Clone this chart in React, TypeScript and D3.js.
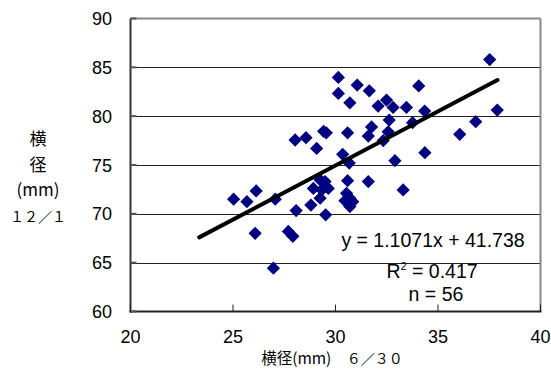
import * as d3 from 'd3'
import { useEffect, useRef } from 'react'

// 横径 6/30 (x) vs 横径 12/1 (y), mm
const xValues = [
    37.52, 30.14, 31.06, 31.65, 34.06, 30.14, 30.7, 32.08, 32.49, 32.81,
    33.46, 34.35, 37.89, 32.62, 33.76, 36.84, 29.42, 29.55, 30.59, 31.76,
    31.6, 32.57, 32.33, 36.06, 28.03, 28.56, 29.08, 30.35, 30.67, 32.9,
    34.36, 25.03, 25.68, 26.13, 27.06, 28.08, 28.8, 29.52, 26.08, 27.7,
    27.92, 26.97, 31.6, 33.3, 30.59, 29.25, 29.49, 28.92, 29.33, 29.65,
    29.25, 30.54, 30.7, 30.46, 30.84, 30.7,
]
const yValues = [
    85.8, 83.97, 83.18, 82.6, 83.1, 82.33, 81.37, 81.03, 81.65, 80.9,
    80.9, 80.52, 80.62, 79.6, 79.33, 79.43, 78.45, 78.3, 78.3, 78.9,
    77.96, 78.4, 77.5, 78.14, 77.56, 77.8, 76.7, 76.1, 75.2, 75.44,
    76.26, 71.5, 71.25, 72.34, 71.5, 70.33, 70.9, 69.9, 68.0, 68.2,
    67.7, 64.44, 73.3, 72.45, 73.4, 73.47, 73.3, 72.6, 72.45, 72.6,
    71.6, 72.1, 71.6, 71.35, 71.25, 70.74,
]
const xTicks = [20, 25, 30, 35, 40]
const yTicks = [60, 65, 70, 75, 80, 85, 90]
const slope = 1.1071
const intercept = 41.738
const trendRange = [23.35, 37.9]
const annotations = ['y = 1.1071x + 41.738', 'R2 = 0.417', 'n = 56']

export default function App() {
    const svgRef = useRef<SVGSVGElement>(null)
    const width = 551
    const height = 369

    useEffect(() => {
        if (!svgRef.current) return
        const svg = d3.select(svgRef.current)
        svg.selectAll('*').remove()

        const margin = { top: 18.5, right: 10.5, bottom: 57.5, left: 130.5 }
        const x = d3
            .scaleLinear()
            .domain([20, 40])
            .range([margin.left, width - margin.right])
        const y = d3
            .scaleLinear()
            .domain([60, 90])
            .range([height - margin.bottom, margin.top])

        const num = '"Liberation Sans", Arial, sans-serif'
        const cjk = '"Noto Sans CJK JP", sans-serif'

        // gridlines
        svg.append('g')
            .selectAll('line')
            .data(yTicks.slice(1, -1))
            .join('line')
            .attr('x1', x(20))
            .attr('x2', x(40))
            .attr('y1', (d) => Math.round(y(d)) + 0.5)
            .attr('y2', (d) => Math.round(y(d)) + 0.5)
            .attr('stroke', '#222')
            .attr('stroke-width', 1)

        // frame: top/right gray, left/bottom dark
        svg.append('line')
            .attr('x1', x(20)).attr('x2', x(40))
            .attr('y1', y(90)).attr('y2', y(90))
            .attr('stroke', '#888').attr('stroke-width', 2)
        svg.append('line')
            .attr('x1', x(40)).attr('x2', x(40))
            .attr('y1', y(90)).attr('y2', y(60))
            .attr('stroke', '#888').attr('stroke-width', 2)
        svg.append('line')
            .attr('x1', x(20)).attr('x2', x(20))
            .attr('y1', y(90)).attr('y2', y(60) + 1)
            .attr('stroke', '#333').attr('stroke-width', 2)
        svg.append('line')
            .attr('x1', x(20) - 1).attr('x2', x(40) + 1)
            .attr('y1', y(60)).attr('y2', y(60))
            .attr('stroke', '#222').attr('stroke-width', 2)

        // inside ticks
        svg.append('g')
            .selectAll('line')
            .data(xTicks)
            .join('line')
            .attr('x1', (d) => x(d))
            .attr('x2', (d) => x(d))
            .attr('y1', y(60))
            .attr('y2', y(60) - 7)
            .attr('stroke', '#222')
            .attr('stroke-width', 1)
        svg.append('g')
            .selectAll('line')
            .data(yTicks)
            .join('line')
            .attr('x1', x(20))
            .attr('x2', x(20) + 6)
            .attr('y1', (d) => y(d))
            .attr('y2', (d) => y(d))
            .attr('stroke', '#555')
            .attr('stroke-width', 2)

        // tick labels
        svg.append('g')
            .selectAll('text')
            .data(xTicks)
            .join('text')
            .attr('x', (d) => x(d))
            .attr('y', 343)
            .attr('text-anchor', 'middle')
            .style('font-family', num)
            .style('font-size', '18px')
            .text((d) => d)
        svg.append('g')
            .selectAll('text')
            .data(yTicks)
            .join('text')
            .attr('x', 112)
            .attr('y', (d) => y(d) + 6.5)
            .attr('text-anchor', 'end')
            .style('font-family', num)
            .style('font-size', '18px')
            .text((d) => d)

        // points
        const diamond = d3.symbol().type(d3.symbolDiamond2).size(112)
        svg.append('g')
            .selectAll('path')
            .data(xValues.map((v, i) => [v, yValues[i]]))
            .join('path')
            .attr('d', diamond)
            .attr('transform', (d) => `translate(${x(d[0])},${y(d[1])})`)
            .attr('fill', '#000080')

        // trend line
        const line = d3
            .line<number>()
            .x((d) => x(d))
            .y((d) => y(slope * d + intercept))
        svg.append('path')
            .datum(trendRange)
            .attr('d', line)
            .attr('stroke', '#000')
            .attr('stroke-width', 4)
            .attr('stroke-linecap', 'round')
            .attr('fill', 'none')

        // annotations
        const ann = svg
            .append('g')
            .style('font-family', num)
            .style('font-size', '19.5px')
            .attr('text-anchor', 'middle')
        ann.append('text').attr('x', 433).attr('y', 247).text(annotations[0])
        const r2 = ann.append('text').attr('x', 432).attr('y', 278)
        r2.append('tspan').text('R')
        r2.append('tspan')
            .attr('dy', -8)
            .style('font-size', '11px')
            .text('2')
        r2.append('tspan').attr('dy', 8).text(annotations[1].slice(2))
        ann.append('text').attr('x', 436).attr('y', 301).text(annotations[2])

        // axis titles
        const xTitle = svg
            .append('text')
            .attr('x', 332)
            .attr('y', 364)
            .attr('text-anchor', 'middle')
            .style('font-family', cjk)
            .style('font-size', '15.5px')
        xTitle.append('tspan').text('横径(mm)　')
        xTitle.append('tspan').style('font-size', '14px').text('６／３０')

        const yTitle = ['横', '径', '(mm)', '１２／１']
        svg.append('g')
            .selectAll('text')
            .data(yTitle)
            .join('text')
            .attr('x', 38)
            .attr('y', (d, i) => 145 + i * 25.5)
            .attr('text-anchor', 'middle')
            .style('font-family', cjk)
            .style('font-size', (d, i) => (i === 3 ? '14px' : '17px'))
            .text((d) => d)
    }, [])

    return (
        <svg
            ref={svgRef}
            width={width}
            height={height}
            style={{ position: 'absolute', left: 0, top: 0, background: '#fff' }}
        />
    )
}
